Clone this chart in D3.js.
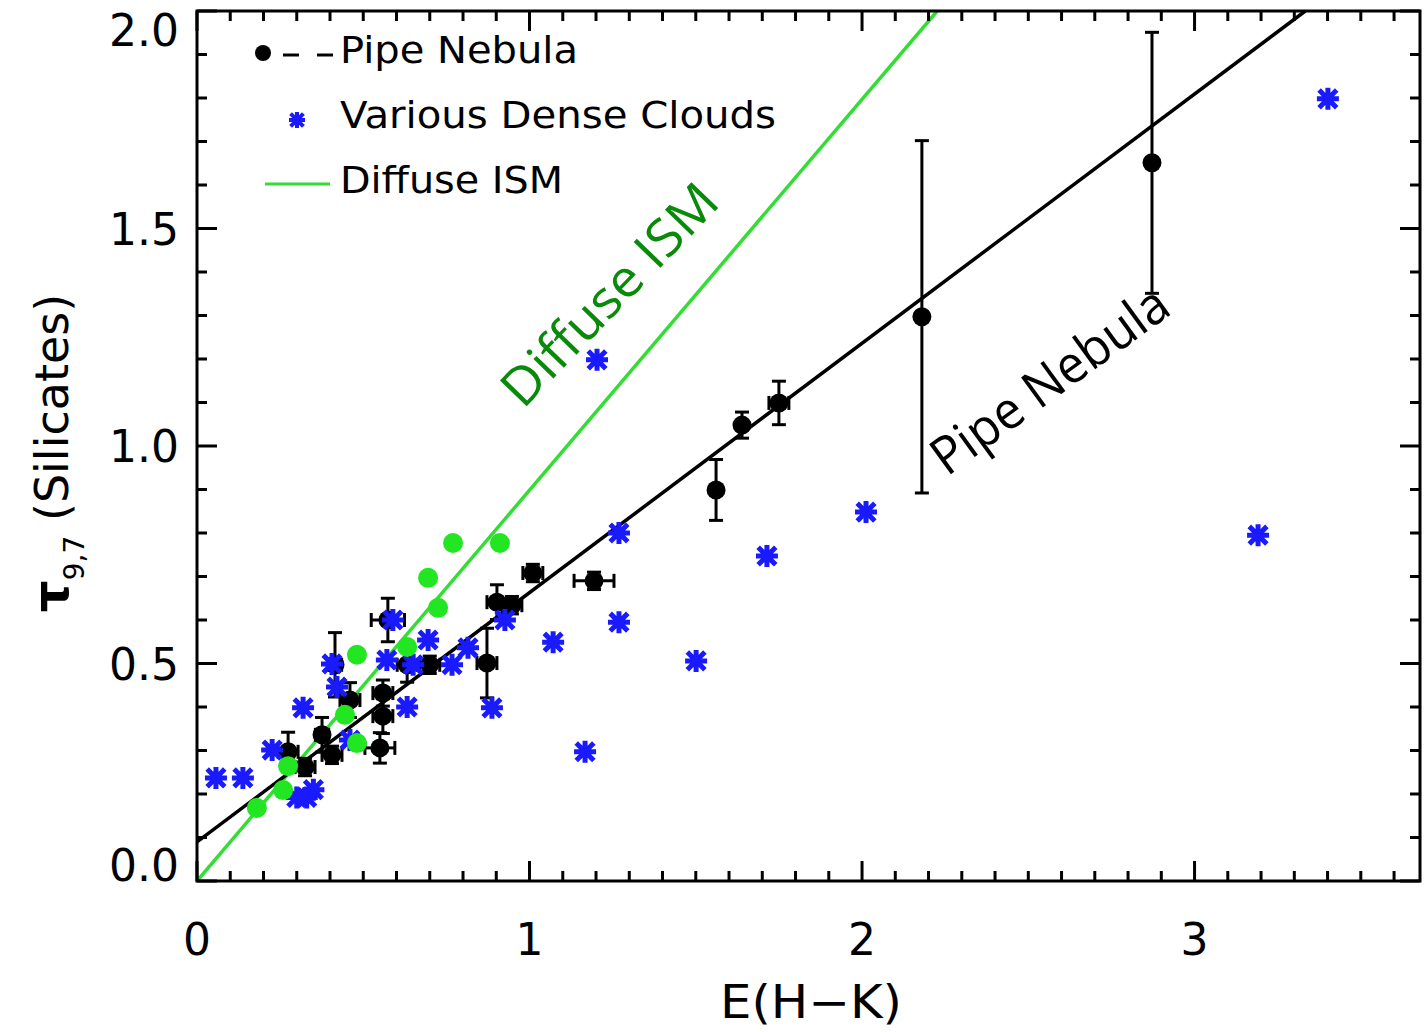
<!DOCTYPE html>
<html><head><meta charset="utf-8">
<script src="https://cdn.jsdelivr.net/npm/d3@7"></script>
<style>body{margin:0;background:#fff;} svg{display:block;}</style>
</head><body>
<script>
// ---- data ----
const xTicksMajor = [0, 1, 2, 3];
const yTicksMajor = [0.0, 0.5, 1.0, 1.5, 2.0];
const xTickLabels = ["0", "1", "2", "3"];
const yTickLabels = ["0.0", "0.5", "1.0", "1.5", "2.0"];
// Pipe Nebula: x, y, xerr, yerr
const pipeX    = [0.274,0.325,0.376,0.406,0.415,0.460,0.559,0.559,0.550,0.574,0.632,0.700,0.872,0.902,0.947,1.010,1.194,1.561,1.639,1.750,2.180,2.872];
const pipeY    = [0.297,0.262,0.336,0.290,0.497,0.416,0.432,0.379,0.306,0.600,0.497,0.497,0.501,0.641,0.634,0.708,0.690,0.899,1.048,1.099,1.297,1.651];
const pipeXerr = [0.03,0.03,0.02,0.03,0.02,0.03,0.03,0.03,0.045,0.05,0.03,0.03,0.03,0.03,0.03,0.03,0.06,0.00,0.00,0.03,0.00,0.00];
const pipeYerr = [0.045,0.02,0.04,0.02,0.074,0.04,0.03,0.04,0.035,0.05,0.04,0.02,0.08,0.04,0.02,0.02,0.02,0.07,0.03,0.05,0.405,0.30];
// Various Dense Clouds
const denseX = [0.057,0.138,0.226,0.319,0.300,0.330,0.350,0.406,0.421,0.460,0.589,0.571,0.650,0.632,0.695,0.767,0.815,0.887,0.926,1.071,1.167,1.203,1.269,1.269,1.501,1.714,2.012,3.191,3.401];
const denseY = [0.237,0.237,0.301,0.398,0.192,0.192,0.210,0.499,0.446,0.324,0.600,0.508,0.497,0.400,0.554,0.497,0.536,0.398,0.600,0.549,0.297,1.198,0.800,0.595,0.506,0.747,0.848,0.795,1.798];
// Diffuse ISM points
const diffX = [0.180,0.259,0.274,0.445,0.481,0.481,0.632,0.725,0.695,0.770,0.911];
const diffY = [0.168,0.209,0.264,0.382,0.317,0.520,0.538,0.628,0.697,0.777,0.777];
// fit lines (endpoints)
const pipeFit = [[0, 0.09], [3.333, 2.0]];
const diffFit = [[0, 0.0], [2.226, 2.0]];

// ---- layout ----
const W = 1425, H = 1032;
const L = 197, R = 1420, T = 11, B = 881;
const svg = d3.select("body").append("svg").attr("width", W).attr("height", H);
const x = d3.scaleLinear().domain([0, 3.678]).range([L, R]);
const y = d3.scaleLinear().domain([0, 2]).range([B, T]);
const font = "'DejaVu Sans', sans-serif";

svg.append("defs").append("clipPath").attr("id","pc")
  .append("rect").attr("x",L).attr("y",T).attr("width",R-L).attr("height",B-T);
const plot = svg.append("g").attr("clip-path","url(#pc)");

// lines
const line = d3.line().x(d=>x(d[0])).y(d=>y(d[1]));
plot.append("path").attr("d", line(diffFit)).attr("stroke","#33dd33").attr("stroke-width",3.5).attr("fill","none");
plot.append("path").attr("d", line(pipeFit)).attr("stroke","#000").attr("stroke-width",3.5).attr("fill","none");

// pipe nebula points with error bars
const pipe = pipeX.map((v,i)=>({x:v,y:pipeY[i],xe:pipeXerr[i],ye:pipeYerr[i]}));
const eg = plot.append("g").attr("stroke","#000").attr("stroke-width",3);
const cap = 7;
pipe.forEach(d=>{
  if (d.ye>0){
    eg.append("line").attr("x1",x(d.x)).attr("x2",x(d.x)).attr("y1",y(d.y-d.ye)).attr("y2",y(d.y+d.ye));
    eg.append("line").attr("x1",x(d.x)-cap).attr("x2",x(d.x)+cap).attr("y1",y(d.y+d.ye)).attr("y2",y(d.y+d.ye));
    eg.append("line").attr("x1",x(d.x)-cap).attr("x2",x(d.x)+cap).attr("y1",y(d.y-d.ye)).attr("y2",y(d.y-d.ye));
  }
  if (d.xe>0){
    eg.append("line").attr("x1",x(d.x-d.xe)).attr("x2",x(d.x+d.xe)).attr("y1",y(d.y)).attr("y2",y(d.y));
    eg.append("line").attr("x1",x(d.x-d.xe)).attr("x2",x(d.x-d.xe)).attr("y1",y(d.y)-cap).attr("y2",y(d.y)+cap);
    eg.append("line").attr("x1",x(d.x+d.xe)).attr("x2",x(d.x+d.xe)).attr("y1",y(d.y)-cap).attr("y2",y(d.y)+cap);
  }
});
plot.append("g").selectAll("circle").data(pipe).join("circle")
  .attr("cx",d=>x(d.x)).attr("cy",d=>y(d.y)).attr("r",9.5).attr("fill","#000");

// star symbol
function star(g, cx, cy, s, sw){
  const p = d3.path();
  p.moveTo(cx-s,cy); p.lineTo(cx+s,cy);
  p.moveTo(cx,cy-s); p.lineTo(cx,cy+s);
  const k = s*0.8;
  p.moveTo(cx-k,cy-k); p.lineTo(cx+k,cy+k);
  p.moveTo(cx-k,cy+k); p.lineTo(cx+k,cy-k);
  g.append("path").attr("d",p.toString()).attr("stroke","#1a1aff").attr("stroke-width",sw).attr("fill","none");
  g.append("circle").attr("cx",cx).attr("cy",cy).attr("r",s*0.55).attr("fill","#1a1aff");
}
const sg = plot.append("g");
denseX.forEach((v,i)=>star(sg, x(v), y(denseY[i]), 11, 5));

// diffuse points
plot.append("g").selectAll("circle").data(diffX.map((v,i)=>[v,diffY[i]])).join("circle")
  .attr("cx",d=>x(d[0])).attr("cy",d=>y(d[1])).attr("r",10).attr("fill","#22e622");

// ---- frame and ticks ----
const fr = svg.append("g").attr("stroke","#000").attr("stroke-width",3).attr("fill","none");
fr.append("rect").attr("x",L).attr("y",T).attr("width",R-L).attr("height",B-T);
const xMinor = d3.range(0, 37).map(i=>i/10);
const yMinor = d3.range(0, 21).map(i=>i/10);
xMinor.forEach(v=>{
  const isMaj = Math.abs(v-Math.round(v))<1e-6;
  const len = isMaj ? 20 : 10;
  fr.append("line").attr("x1",x(v)).attr("x2",x(v)).attr("y1",B).attr("y2",B-len);
  fr.append("line").attr("x1",x(v)).attr("x2",x(v)).attr("y1",T).attr("y2",T+len);
});
yMinor.forEach(v=>{
  const isMaj = Math.abs(v*2-Math.round(v*2))<1e-6;
  const len = isMaj ? 20 : 10;
  fr.append("line").attr("x1",L).attr("x2",L+len).attr("y1",y(v)).attr("y2",y(v));
  fr.append("line").attr("x1",R).attr("x2",R-len).attr("y1",y(v)).attr("y2",y(v));
});

// tick labels
svg.append("g").selectAll("text").data(xTicksMajor).join("text")
  .attr("x",d=>x(d)).attr("y",955).attr("text-anchor","middle")
  .attr("font-family",font).attr("font-size",44).attr("fill","#000")
  .text((d,i)=>xTickLabels[i]);
svg.append("g").selectAll("text").data(yTicksMajor).join("text")
  .attr("x",179).attr("y",d=>Math.min(Math.max(y(d),30),865)+16).attr("text-anchor","end")
  .attr("font-family",font).attr("font-size",44).attr("fill","#000")
  .text((d,i)=>yTickLabels[i]);

// axis titles
svg.append("text").attr("x",811).attr("y",1018).attr("text-anchor","middle")
  .attr("font-family",font).attr("font-size",46).attr("textLength",182).attr("lengthAdjust","spacingAndGlyphs")
  .text("E(H\u2212K)");
const yt = svg.append("text").attr("transform","translate(68,453) rotate(-90)")
  .attr("text-anchor","middle").attr("font-family",font).attr("font-size",46).attr("fill","#000");
yt.append("tspan").attr("font-size",50).attr("font-weight","bold").text("\u03c4");
yt.append("tspan").attr("font-size",28).attr("dy",16).text("9,7");
yt.append("tspan").attr("dy",-16).text(" (Silicates)");

// legend
const lg = svg.append("g");
lg.append("circle").attr("cx",263).attr("cy",53).attr("r",8).attr("fill","#000");
lg.append("line").attr("x1",283).attr("x2",299).attr("y1",55).attr("y2",55).attr("stroke","#000").attr("stroke-width",3);
lg.append("line").attr("x1",317).attr("x2",333).attr("y1",55).attr("y2",55).attr("stroke","#000").attr("stroke-width",3);
star(lg, 297, 120, 8, 4);
lg.append("line").attr("x1",265).attr("x2",330).attr("y1",184).attr("y2",184).attr("stroke","#33dd33").attr("stroke-width",3);
const legTexts = [["Pipe Nebula",63,238],["Various Dense Clouds",128,436],["Diffuse ISM",193,223]];
legTexts.forEach(t=>{
  lg.append("text").attr("x",340).attr("y",t[1]).attr("font-family",font).attr("font-size",38)
    .attr("textLength",t[2]).attr("lengthAdjust","spacingAndGlyphs").text(t[0]);
});

// annotations
svg.append("text").attr("transform","translate(523,410) rotate(-46)")
  .attr("font-family","'Open Sans', sans-serif").attr("font-size",52).attr("fill","#0a8a0a")
  .attr("textLength",286).attr("lengthAdjust","spacingAndGlyphs").text("Diffuse ISM");
svg.append("text").attr("transform","translate(947,477) rotate(-36)")
  .attr("font-family","'Open Sans', sans-serif").attr("font-size",52).attr("fill","#000")
  .attr("textLength",280).attr("lengthAdjust","spacingAndGlyphs").text("Pipe Nebula");
</script>
</body></html>
